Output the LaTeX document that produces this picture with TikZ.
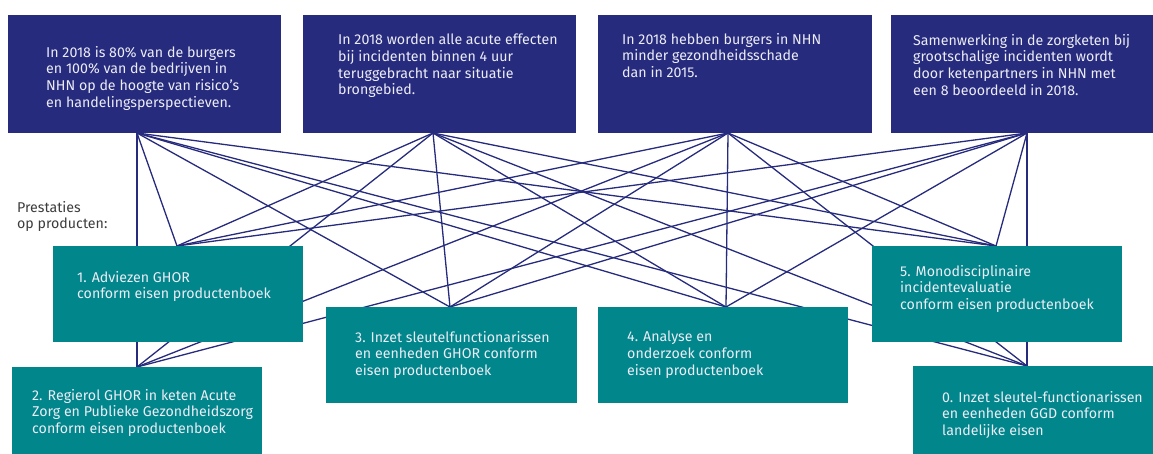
\documentclass[tikz,border=0pt]{standalone}
\usepackage{fontspec}
\setmainfont{Fira Sans}
\definecolor{navy}{RGB}{38,43,125}
\definecolor{tealbox}{RGB}{0,134,139}
\definecolor{lighttxt}{RGB}{236,236,246}
\definecolor{labeltxt}{RGB}{60,60,60}
\begin{document}
\begin{tikzpicture}[x=1pt,y=-1pt,
  topbox/.style={fill=navy,draw=none,anchor=north west,inner sep=0pt},
  prodbox/.style={fill=tealbox,draw=none,anchor=north west,inner sep=0pt},
  txt/.style={anchor=north west,inner sep=0pt,align=left,text=lighttxt,
    font=\fontsize{14.2}{16.6}\selectfont},
  lbl/.style={anchor=north west,inner sep=0pt,align=left,text=labeltxt,
    font=\fontsize{14.2}{16.6}\selectfont},
  link/.style={draw=navy,line width=1.3pt}]
\useasboundingbox (0,0) rectangle (1153,453);
\clip (0,0) rectangle (1153,453);
% anchor points
\coordinate (a) at (137,133);
\coordinate (b) at (433,133);
\coordinate (c) at (728,133);
\coordinate (d) at (1027,133);
\coordinate (p1) at (177,246);
\coordinate (p2) at (137,367);
\coordinate (p3) at (450,307);
\coordinate (p4) at (726,307);
\coordinate (p5) at (996,246);
\coordinate (p0) at (1027,366);
% connectors
\foreach \s in {a,b,c,d}{
  \foreach \t in {p1,p2,p3,p4,p5,p0}{
    \draw[link] (\s) -- (\t);
  }
}
% top boxes
\node[topbox,minimum width=273pt,minimum height=118pt] (A) at (8,15) {};
\node[topbox,minimum width=273pt,minimum height=118pt] (B) at (303,15) {};
\node[topbox,minimum width=274pt,minimum height=118pt] (C) at (598,15) {};
\node[topbox,minimum width=270pt,minimum height=118pt] (D) at (891,15) {};
% product boxes
\node[prodbox,minimum width=250pt,minimum height=96pt] (B1) at (53,246) {};
\node[prodbox,minimum width=250pt,minimum height=92pt] (B2) at (12,367) {};
\node[prodbox,minimum width=251pt,minimum height=96pt] (B3) at (326,307) {};
\node[prodbox,minimum width=250pt,minimum height=96pt] (B4) at (598,307) {};
\node[prodbox,minimum width=250pt,minimum height=96pt] (B5) at (872,246) {};
\node[prodbox,minimum width=250pt,minimum height=92pt] (B0) at (913,366) {};
% texts
\node[txt] (At) at (46,46) {In 2018 is 80\% van de burgers\\en 100\% van de bedrijven in\\NHN op de hoogte van risico’s\\en handelingsperspectieven.};
\node[txt] (Bt) at (338,34) {In 2018 worden alle acute effecten\\bij incidenten binnen 4 uur\\teruggebracht naar situatie\\brongebied.};
\node[txt] (Ct) at (622,33) {In 2018 hebben burgers in NHN\\minder gezondheidsschade\\dan in 2015.};
\node[txt] (Dt) at (913,34) {Samenwerking in de zorgketen bij\\grootschalige incidenten wordt\\door ketenpartners in NHN met\\een 8 beoordeeld in 2018.};
\node[lbl] (L) at (17,201) {Prestaties\\op producten:};
\node[txt] (T1) at (77,271) {1. Adviezen GHOR\\conform eisen productenboek};
\node[txt] (T2) at (32,389) {2. Regierol GHOR in keten Acute\\Zorg en Publieke Gezondheidszorg\\conform eisen productenboek};
\node[txt] (T3) at (355,331) {3. Inzet sleutelfunctionarissen\\en eenheden GHOR conform\\eisen productenboek};
\node[txt] (T4) at (627,331) {4. Analyse en\\onderzoek conform\\eisen productenboek};
\node[txt] (T5) at (900,265) {5. Monodisciplinaire\\incidentevaluatie\\conform eisen productenboek};
\node[txt] (T0) at (942,391) {0. Inzet sleutel-functionarissen\\en eenheden GGD conform\\landelijke eisen};
\end{tikzpicture}
\end{document}
